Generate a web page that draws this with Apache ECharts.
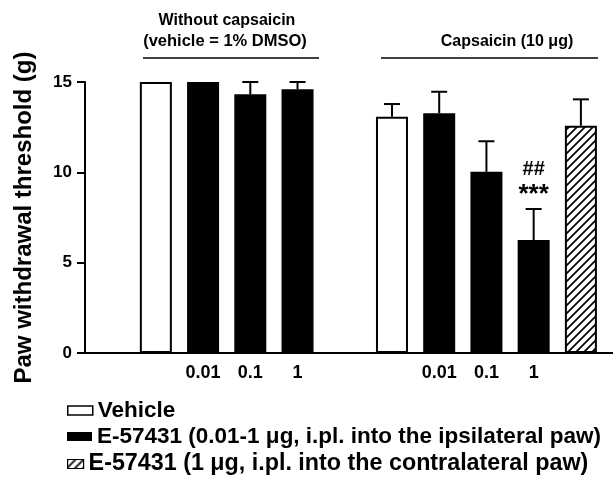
<!DOCTYPE html>
<html>
<head>
<meta charset="utf-8">
<script src="https://cdn.jsdelivr.net/npm/echarts@6/dist/echarts.min.js"></script>
<style>
  html, body { margin: 0; padding: 0; background: #fff; }
  #chart { width: 613px; height: 478px; }
</style>
</head>
<body>
<div id="chart"></div>
<script>
// ---- Data ----
// Slot positions along the x axis (slot centre = index + 0.5); slots 0 and 5 are spacers
const withoutCapsaicinSlots = [1, 2, 3, 4];
const capsaicinSlots = [6, 7, 8, 9, 10];
const tickLabels = ['', '', '0.01', '0.1', '1', '', '', '0.01', '0.1', '1', '', ''];

// Without capsaicin (vehicle = 1% DMSO): vehicle, 0.01, 0.1, 1 µg
const withoutCapsaicinMeans = [15.0, 15.0, 14.32, 14.6];
const withoutCapsaicinSEM   = [0, 0, 0.68, 0.40];
// Capsaicin (10 µg): vehicle, 0.01, 0.1, 1 µg (ipsilateral), 1 µg contralateral
const capsaicinMeans = [13.08, 13.27, 10.03, 6.25, 12.58];
const capsaicinSEM   = [0.70, 1.19, 1.69, 1.72, 1.46];
const hashMarks = ['', '', '', '##', ''];
const starMarks = ['', '', '', '***', ''];

const yTicks = [0, 5, 10, 15];
const seriesNames = ['Vehicle',
  'E-57431 (0.01-1 \u03bcg, i.pl. into the ipsilateral paw)',
  'E-57431 (1 \u03bcg, i.pl. into the contralateral paw)'];

// ---- Build series data from the arrays ----
const vehicleData = [], ipsiData = [], contraData = [];
const errData = [], errHash = [], errStar = [];
withoutCapsaicinSlots.forEach((slot, k) => {
  const x = slot + 0.5;
  (k === 0 ? vehicleData : ipsiData).push([x, withoutCapsaicinMeans[k]]);
  if (withoutCapsaicinSEM[k] > 0) { errData.push([x, withoutCapsaicinMeans[k], withoutCapsaicinSEM[k]]); errHash.push(''); errStar.push(''); }
});
capsaicinSlots.forEach((slot, k) => {
  const x = slot + 0.5;
  (k === 0 ? vehicleData : (k === 4 ? contraData : ipsiData)).push([x, capsaicinMeans[k]]);
  if (capsaicinSEM[k] > 0) { errData.push([x, capsaicinMeans[k], capsaicinSEM[k]]); errHash.push(hashMarks[k]); errStar.push(starMarks[k]); }
});

// ---- Hatch pattern ----
function makeHatch() {
  const c = document.createElement('canvas');
  const s = 8;
  c.width = s; c.height = s;
  const ctx = c.getContext('2d');
  ctx.fillStyle = '#fff';
  ctx.fillRect(0, 0, s, s);
  ctx.strokeStyle = '#000';
  ctx.lineWidth = 1.7;
  ctx.beginPath();
  ctx.moveTo(-1, s + 1); ctx.lineTo(s + 1, -1);
  ctx.moveTo(-1, 1); ctx.lineTo(1, -1);
  ctx.moveTo(s - 1, s + 1); ctx.lineTo(s + 1, s - 1);
  ctx.stroke();
  return c;
}
const hatch = { image: makeHatch(), repeat: 'repeat' };

const FONT = "'Liberation Sans', Arial, Helvetica, sans-serif";
const chart = echarts.init(document.getElementById('chart'), null, { renderer: 'canvas' });

const legendText = (size) => ({ fontFamily: FONT, fontWeight: 'bold', fontSize: size, color: '#000' });
const legendBase = { orient: 'vertical', left: 67, padding: 0, selectedMode: false, itemHeight: 9 };

const option = {
  backgroundColor: '#fff',
  animation: false,
  textStyle: { fontFamily: FONT },
  grid: { left: 85, top: 82, right: 0, height: 271, containLabel: false },
  legend: [
    Object.assign({}, legendBase, { top: 399, itemWidth: 25, textStyle: legendText(22.5),
      data: [{ name: seriesNames[0], icon: 'rect', itemStyle: { color: '#fff', borderColor: '#000', borderWidth: 1.5 } }] }),
    Object.assign({}, legendBase, { top: 425, itemWidth: 25, textStyle: legendText(22.5),
      data: [{ name: seriesNames[1], icon: 'rect', itemStyle: { color: '#000', borderWidth: 0 } }] }),
    Object.assign({}, legendBase, { top: 452.5, itemWidth: 16, textStyle: legendText(23.3),
      data: [{ name: seriesNames[2], icon: 'rect', itemStyle: { color: hatch, borderColor: '#000', borderWidth: 1.2 } }] })
  ],
  xAxis: {
    type: 'value', min: 0, max: 11.18, interval: 0.5,
    axisLine: { onZero: false, lineStyle: { color: '#000', width: 2 } },
    axisTick: { show: false },
    axisLabel: {
      margin: 11, showMaxLabel: false, showMinLabel: false,
      fontFamily: FONT, fontWeight: 'bold', fontSize: 18, color: '#000',
      formatter: v => {
        const i = v - 0.5;
        return Number.isInteger(i) && tickLabels[i] ? tickLabels[i] : '';
      }
    },
    splitLine: { show: false }
  },
  yAxis: {
    type: 'value', min: 0, max: 15, interval: 5,
    name: 'Paw withdrawal threshold (g)',
    nameLocation: 'middle', nameGap: 49,
    nameTextStyle: { fontFamily: FONT, fontWeight: 'bold', fontSize: 24, color: '#000' },
    axisLine: { show: true, onZero: false, lineStyle: { color: '#000', width: 2 } },
    axisTick: { show: true, length: 8, lineStyle: { color: '#000', width: 2 } },
    axisLabel: {
      margin: 13, fontFamily: FONT, fontWeight: 'bold', fontSize: 17, color: '#000',
      formatter: v => yTicks.indexOf(v) >= 0 ? String(v) : ''
    },
    splitLine: { show: false }
  },
  series: [
    { name: seriesNames[0], type: 'bar', data: vehicleData, barWidth: 32, barGap: '-100%',
      itemStyle: { color: '#fff', borderColor: '#000', borderWidth: 2 } },
    { name: seriesNames[1], type: 'bar', data: ipsiData, barWidth: 32, barGap: '-100%',
      itemStyle: { color: '#000', borderColor: '#000', borderWidth: 0 } },
    { name: seriesNames[2], type: 'bar', data: contraData, barWidth: 32, barGap: '-100%',
      itemStyle: { color: hatch, borderColor: '#000', borderWidth: 2 } },
    { name: 'SEM', type: 'custom', data: errData, z: 5, clip: false,
      encode: { x: 0, y: 1 },
      renderItem: (params, api) => {
        const x = api.value(0), m = api.value(1), s = api.value(2);
        const base = api.coord([x, m]);
        const top = api.coord([x, m + s]);
        const hw = 8;
        const st = { stroke: '#000', lineWidth: 2 };
        const children = [
          { type: 'line', shape: { x1: base[0], y1: base[1], x2: top[0], y2: top[1] }, style: st },
          { type: 'line', shape: { x1: top[0] - hw, y1: top[1], x2: top[0] + hw, y2: top[1] }, style: st }
        ];
        const star = errStar[params.dataIndex], hash = errHash[params.dataIndex];
        if (star) children.push({ type: 'text', x: top[0], y: top[1] - 14,
          style: { text: star, fontFamily: FONT, fontWeight: 'bold', fontSize: 26, fill: '#000', align: 'center', verticalAlign: 'middle' } });
        if (hash) children.push({ type: 'text', x: top[0], y: top[1] - 40,
          style: { text: hash, fontFamily: FONT, fontWeight: 'bold', fontSize: 20, fill: '#000', align: 'center', verticalAlign: 'middle' } });
        return { type: 'group', children };
      }
    }
  ],
  graphic: [
    { type: 'text', x: 227, y: 21, style: { text: 'Without capsaicin', fontFamily: FONT, fontWeight: 'bold', fontSize: 16, fill: '#000', align: 'center', verticalAlign: 'middle' } },
    { type: 'text', x: 225, y: 41.5, style: { text: '(vehicle = 1% DMSO)', fontFamily: FONT, fontWeight: 'bold', fontSize: 16.5, fill: '#000', align: 'center', verticalAlign: 'middle' } },
    { type: 'line', shape: { x1: 143, y1: 58, x2: 319, y2: 58 }, style: { stroke: '#000', lineWidth: 1.5 } },
    { type: 'text', x: 507, y: 42, style: { text: 'Capsaicin (10 \u03bcg)', fontFamily: FONT, fontWeight: 'bold', fontSize: 16, fill: '#000', align: 'center', verticalAlign: 'middle' } },
    { type: 'line', shape: { x1: 381, y1: 58, x2: 598, y2: 58 }, style: { stroke: '#000', lineWidth: 1.5 } }
  ]
};
chart.setOption(option);
</script>
</body>
</html>
